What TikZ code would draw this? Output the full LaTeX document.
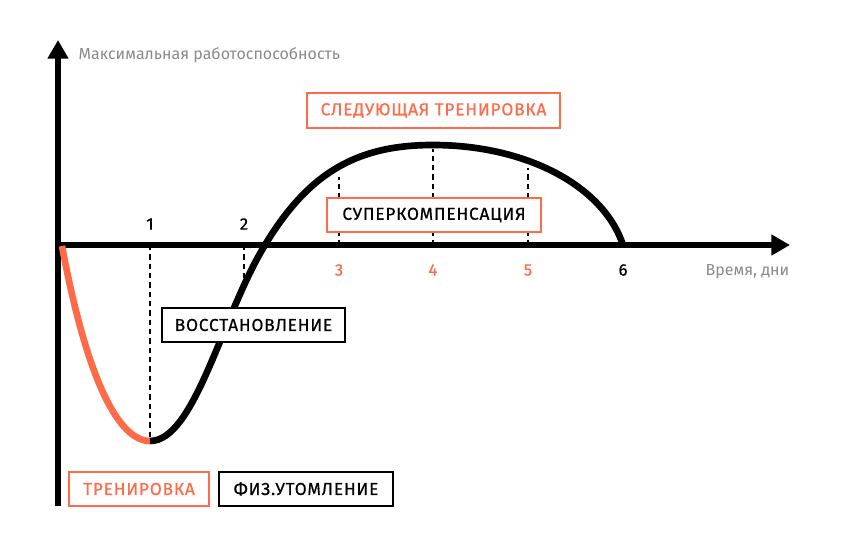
\documentclass[tikz,border=0pt]{standalone}
\usepackage{fontspec}
\setmainfont{Fira Sans}
\usetikzlibrary{arrows.meta}

\definecolor{trainorange}{HTML}{FF6A48}
\definecolor{labelgray}{HTML}{8A8A8A}

\tikzset{
    axisline/.style={line width=4pt, -{Triangle[length=14pt,width=15pt]}},
    curveline/.style={line width=5pt},
    guide/.style={line width=1.1pt, dash pattern=on 4pt off 3pt},
    phasebox/.style={draw, line width=1.5pt, fill=white, inner sep=0pt,
        minimum height=26pt,
        font=\fontsize{13}{15}\selectfont\addfontfeatures{LetterSpace=4.5,FakeBold=0.6}},
    daynum/.style={font=\fontsize{12.5}{14}\selectfont\addfontfeatures{FakeBold=0.6}},
    axislabel/.style={text=labelgray, font=\fontsize{12}{14}\selectfont},
}

\begin{document}
\begin{tikzpicture}[x=0.75pt, y=-0.75pt]
        \useasboundingbox (0,0) rectangle (850,536);

        % points on the time axis and on the curve
        \coordinate (origin) at (58,245);
        \coordinate (tend) at (790,245);
        \coordinate (ybottom) at (58,506);
        \coordinate (ytop) at (58,40);
        \coordinate (day1) at (150,245);
        \coordinate (day2) at (244,245);
        \coordinate (day3) at (339,245);
        \coordinate (day4) at (433,245);
        \coordinate (day5) at (528,245);
        \coordinate (day6) at (623,245);
        \coordinate (low) at (150,441);
        \coordinate (rise) at (244,288);
        \coordinate (cross) at (265,245);
        \coordinate (top3) at (339,177);
        \coordinate (peak) at (433,149);
        \coordinate (top5) at (528,168);

        \draw[guide] (day1) -- (low);
        \draw[guide] (day2) -- (rise);
        \draw[guide] (day3) -- (top3);
        \draw[guide] (day4) -- (peak);
        \draw[guide] (day5) -- (top5);

        \draw[axisline, line width=4.5pt] (ybottom) -- (ytop);
        \draw[axisline] (origin) -- (tend);

        \draw[curveline, trainorange] (62,246) .. controls (88,385) and (120,441) .. (low);
        \draw[curveline] (low) .. controls (195,441) and (222,315) .. (cross)
            .. controls (310,170) and (360,145) .. (433,145)
            .. controls (525,145) and (603,185) .. (day6);

        \node[axislabel, anchor=west] (ylabel) at (74,55) {Максимальная работоспособность};
        \node[axislabel, anchor=east] (tlabel) at (794,272) {Время, дни};

        \node[daynum] (n1) at (150,224) {1};
        \node[daynum] (n2) at (244,224) {2};
        \node[daynum, text=trainorange] (n3) at (339,270) {3};
        \node[daynum, text=trainorange] (n4) at (433,270) {4};
        \node[daynum, text=trainorange] (n5) at (528,270) {5};
        \node[daynum] (n6) at (623,270) {6};

        \node[phasebox, draw=trainorange, text=trainorange, minimum width=190pt] (next) at (433.5,110.5) {СЛЕДУЮЩАЯ ТРЕНИРОВКА};
        \node[phasebox, draw=trainorange, minimum width=160pt] (super) at (434,215) {СУПЕРКОМПЕНСАЦИЯ};
        \node[phasebox, minimum width=137pt] (recovery) at (253.5,325) {ВОССТАНОВЛЕНИЕ};
        \node[phasebox, draw=trainorange, text=trainorange, minimum width=105pt] (training) at (139,489) {ТРЕНИРОВКА};
        \node[phasebox, minimum width=130pt] (fatigue) at (306,489) {ФИЗ.УТОМЛЕНИЕ};
    \end{tikzpicture}
\end{document}
